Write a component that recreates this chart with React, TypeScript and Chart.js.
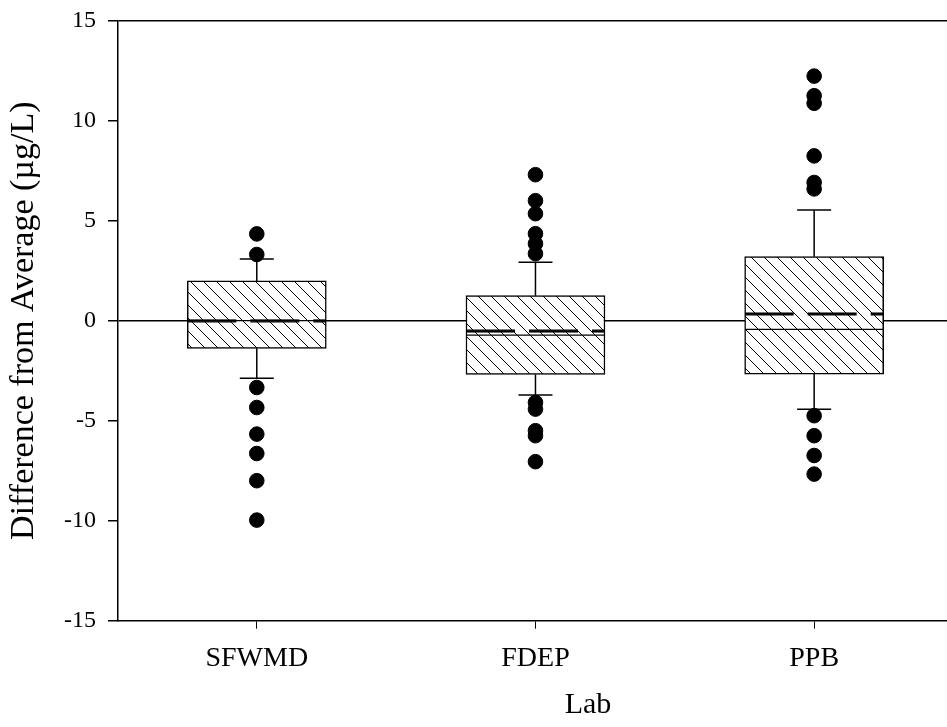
import { useEffect, useRef } from "react";
import { Chart, registerables } from "chart.js";

Chart.register(...registerables);

const labs = ["SFWMD", "FDEP", "PPB"];
const whiskerLow = [-2.88, -3.72, -4.43];
const q1 = [-1.38, -2.68, -2.67];
const medians = [0, -0.72, -0.43];
const means = [0, -0.52, 0.34];
const q3 = [1.99, 1.25, 3.2];
const whiskerHigh = [3.09, 2.92, 5.54];
const outliersSFWMD = [4.34, 3.31, -3.34, -4.34, -5.67, -6.64, -8.0, -9.97];
const outliersFDEP = [7.3, 6.0, 5.35, 4.35, 3.85, 3.35, -4.09, -4.42, -5.5, -5.75, -7.05];
const outliersPPB = [12.23, 11.25, 10.87, 8.24, 6.91, 6.59, -4.75, -5.75, -6.74, -7.67];
const outliers = [outliersSFWMD, outliersFDEP, outliersPPB];
const yTicks = [-15, -10, -5, 0, 5, 10, 15];

const SERIF = "'Liberation Serif', 'Times New Roman', serif";

function makeHatch(ctx: CanvasRenderingContext2D) {
  const s = 13;
  const c = document.createElement("canvas");
  c.width = s;
  c.height = s;
  const g = c.getContext("2d")!;
  g.fillStyle = "#fff";
  g.fillRect(0, 0, s, s);
  g.strokeStyle = "#000";
  g.lineWidth = 1;
  g.beginPath();
  g.moveTo(-2, -2);
  g.lineTo(s + 2, s + 2);
  g.moveTo(-2, s - 2);
  g.lineTo(2, s + 2);
  g.moveTo(s - 2, -2);
  g.lineTo(s + 2, 2);
  g.stroke();
  return ctx.createPattern(c, "repeat")!;
}

function makeDash() {
  const c = document.createElement("canvas");
  c.width = 139;
  c.height = 4;
  const g = c.getContext("2d")!;
  g.fillStyle = "#000";
  [
    [0, 49],
    [63, 49],
    [126, 13],
  ].forEach(([x, w]) => g.fillRect(x, 0.5, w, 3));
  return c;
}

export default function App() {
  const ref = useRef<HTMLCanvasElement | null>(null);

  useEffect(() => {
    const canvas = ref.current!;
    const ctx = canvas.getContext("2d")!;
    const hatch = makeHatch(ctx);
    const dash = makeDash();

    const whiskerData: any[] = [];
    labs.forEach((_, i) => {
      whiskerData.push({ x: i + 1, y: q3[i] }, { x: i + 1, y: whiskerHigh[i] }, { x: i + 1, y: null });
      whiskerData.push({ x: i + 1, y: whiskerLow[i] }, { x: i + 1, y: q1[i] }, { x: i + 1, y: null });
    });
    const capData: any[] = [];
    labs.forEach((_, i) => {
      capData.push({ x: i + 1, y: whiskerHigh[i] }, { x: i + 1, y: whiskerLow[i] });
    });
    const outlierData: any[] = [];
    outliers.forEach((arr, i) => arr.forEach((v) => outlierData.push({ x: i + 1, y: v })));

    const chart = new Chart(ctx, {
      type: "bar",
      data: {
        datasets: [
          {
            type: "bar",
            data: labs.map((_, i) => ({ x: i + 1, y: [q1[i], q3[i]] })) as any,
            backgroundColor: hatch as any,
            borderColor: "#000",
            borderWidth: 1.5,
            borderSkipped: false,
            barThickness: 139,
            grouped: false,
            order: 6,
          } as any,
          {
            type: "line",
            data: whiskerData,
            borderColor: "#000",
            borderWidth: 1.5,
            pointRadius: 0,
            spanGaps: false,
            order: 5,
          } as any,
          {
            type: "scatter",
            data: capData,
            pointStyle: "line",
            pointRadius: 17,
            borderColor: "#000",
            borderWidth: 1.5,
            order: 4,
          } as any,
          {
            type: "scatter",
            data: labs.map((_, i) => ({ x: i + 1, y: medians[i] })),
            pointStyle: "line",
            pointRadius: 69,
            borderColor: "#000",
            borderWidth: 1.2,
            order: 3,
          } as any,
          {
            type: "scatter",
            data: labs.map((_, i) => ({ x: i + 1, y: means[i] })),
            pointStyle: dash as any,
            pointRadius: 5,
            order: 2,
          } as any,
          {
            type: "scatter",
            data: outlierData,
            pointStyle: "circle",
            pointRadius: 7.3,
            backgroundColor: "#000",
            borderColor: "#000",
            borderWidth: 1,
            order: 1,
          } as any,
        ],
      },
      options: {
        responsive: false,
        animation: false,
        events: [],
        layout: { autoPadding: false, padding: { top: 20.7, left: 0, right: 0, bottom: 0 } },
        plugins: { legend: { display: false }, tooltip: { enabled: false } },
        scales: {
          x: {
            type: "linear",
            min: 0.502,
            max: 3.875,
            offset: false,
            afterBuildTicks: (s: any) => {
              s.ticks = labs.map((_, i) => ({ value: i + 1 }));
            },
            afterFit: (s: any) => {
              s.height = 106.3;
              s.paddingLeft = 0;
              s.paddingRight = 0;
            },
            ticks: {
              callback: (v: any) => labs[Number(v) - 1] ?? "",
              font: { family: SERIF, size: 28 },
              color: "#000",
              padding: 13,
              maxRotation: 0,
              autoSkip: false,
            },
            grid: {
              offset: false,
              drawOnChartArea: false,
              tickLength: 8,
              tickColor: "#000",
              tickWidth: 1,
            },
            border: { color: "#000", width: 1.5 },
            title: {
              display: true,
              text: "Lab",
              color: "#000",
              font: { family: SERIF, size: 30 },
              padding: { top: 0, bottom: 4 },
            },
          } as any,
          y: {
            type: "linear",
            min: -15,
            max: 15,
            afterBuildTicks: (s: any) => {
              s.ticks = yTicks.map((v) => ({ value: v }));
            },
            afterFit: (s: any) => {
              s.width = 118;
              s.paddingTop = 0;
              s.paddingBottom = 0;
            },
            ticks: {
              callback: (v: any) => String(v),
              font: { family: SERIF, size: 24 },
              color: "#000",
              padding: 12,
            },
            grid: {
              color: (c: any) =>
                c.tick && (c.tick.value === 0 || c.tick.value === 15) ? "#000" : "rgba(0,0,0,0)",
              lineWidth: 1.5,
              tickLength: 10,
              tickColor: "#000",
              tickWidth: 1.5,
            },
            border: { color: "#000", width: 1.5 },
            title: {
              display: true,
              text: "Difference from Average (µg/L)",
              color: "#000",
              font: { family: SERIF, size: 34 },
              padding: { top: 4, bottom: 0 },
            },
          } as any,
        },
      },
    });
    return () => chart.destroy();
  }, []);

  return (
    <div
      style={{
        position: "absolute",
        left: 0,
        top: 0,
        width: 947,
        height: 727,
        overflow: "hidden",
        background: "#fff",
      }}
    >
      <canvas ref={ref} width={1058} height={727} style={{ display: "block" }} />
    </div>
  );
}
